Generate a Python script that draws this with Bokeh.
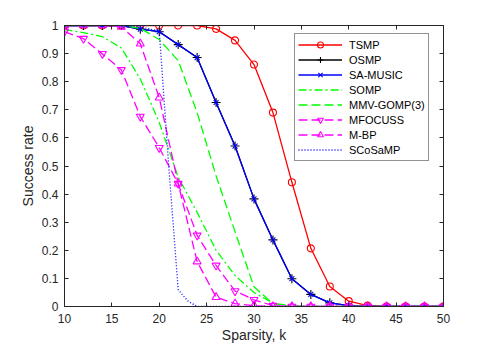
from bokeh.plotting import figure
from bokeh.models import (Range1d, FixedTicker, LinearAxis, Legend, LegendItem,
                          CustomJSTickFormatter)
from bokeh.embed import file_html
from bokeh.resources import INLINE

# ---------------- data ----------------
k = [10, 12, 14, 16, 18, 20, 22, 24, 26, 28, 30, 32, 34, 36, 38, 40, 42, 44, 46, 48, 50]

tsmp     = [1, 1, 1, 1, 1, 1, 1, 1, 0.988, 0.947, 0.861, 0.69, 0.442, 0.207, 0.071, 0.019, 0.003, 0, 0, 0, 0]
osmp     = [1, 1, 1, 1, 0.987, 0.978, 0.932, 0.886, 0.726, 0.571, 0.383, 0.237, 0.099, 0.043, 0.013, 0.003, 0, 0, 0, 0, 0]
samusic  = [1, 1, 1, 1, 0.987, 0.978, 0.932, 0.886, 0.726, 0.571, 0.383, 0.237, 0.099, 0.043, 0.013, 0.003, 0, 0, 0, 0, 0]
somp     = [0.985, 0.975, 0.96, 0.92, 0.81, 0.655, 0.46, 0.335, 0.2, 0.11, 0.05, 0.012, 0.002, 0, 0, 0, 0, 0, 0, 0, 0]
mmvgomp  = [1, 1, 1, 1, 0.99, 0.95, 0.875, 0.69, 0.465, 0.266, 0.07, 0.01, 0, 0, 0, 0, 0, 0, 0, 0, 0]
mfocuss  = [0.978, 0.953, 0.899, 0.842, 0.676, 0.565, 0.437, 0.253, 0.146, 0.055, 0.024, 0.003, 0, 0, 0, 0, 0, 0, 0, 0, 0]
mbp      = [1, 1, 1, 0.995, 0.935, 0.743, 0.437, 0.16, 0.033, 0.01, 0.003, 0, 0, 0, 0, 0, 0, 0, 0, 0, 0]

k_scosamp = [10, 12, 14, 16, 18, 20, 21, 22, 23, 24, 26, 28, 30, 32, 34, 36, 38, 40, 42, 44, 46, 48, 50]
scosamp   = [1, 1, 1, 1, 0.995, 0.98, 0.5, 0.06, 0.02, 0, 0, 0, 0, 0, 0, 0, 0, 0, 0, 0, 0, 0, 0]

x_ticks = [10, 15, 20, 25, 30, 35, 40, 45, 50]
y_ticks = [0, 0.1, 0.2, 0.3, 0.4, 0.5, 0.6, 0.7, 0.8, 0.9, 1]

# ---------------- figure ----------------
FONT = "Liberation Sans"
AX = "#262626"

p = figure(width=490, height=348, x_range=Range1d(10, 50), y_range=Range1d(0, 1),
           output_backend="svg", toolbar_location=None,
           min_border_left=64, min_border_right=47, min_border_top=25, min_border_bottom=42)
p.xgrid.visible = False
p.ygrid.visible = False
p.outline_line_color = AX
p.outline_line_width = 1
p.background_fill_color = "white"
p.border_fill_color = "white"

yfmt = CustomJSTickFormatter(code="return String(Math.round(tick*10)/10);")

def style_axis(ax, ticks):
    ax.ticker = FixedTicker(ticks=ticks)
    ax.minor_tick_line_color = None
    ax.major_tick_in = 4
    ax.major_tick_out = 0
    ax.axis_line_color = AX
    ax.major_tick_line_color = AX
    ax.major_label_text_color = AX
    ax.major_label_text_font = FONT
    ax.major_label_text_font_size = "12px"
    ax.axis_label_text_font = FONT
    ax.axis_label_text_font_size = "14px"
    ax.axis_label_text_font_style = "normal"
    ax.axis_label_text_color = AX

xa = p.below[0]
ya = p.left[0]
style_axis(xa, x_ticks)
style_axis(ya, y_ticks)
ya.formatter = yfmt
xa.axis_label = "Sparsity, k"
ya.axis_label = "Success rate"
xa.major_label_standoff = 7
xa.axis_label_standoff = 1
ya.major_label_standoff = 6
ya.axis_label_standoff = 3

top = LinearAxis()
right = LinearAxis()
for ax, t in ((top, x_ticks), (right, y_ticks)):
    style_axis(ax, t)
    ax.major_label_text_font_size = "0px"
    ax.major_label_standoff = 0
p.add_layout(top, "above")
p.add_layout(right, "right")

# ---------------- series ----------------
items = []
LW = 1.3

def series(x, y, label, color, dash="solid", marker=None, size=7):
    rs = [p.line(x, y, line_color=color, line_width=LW, line_dash=dash)]
    if marker is not None:
        rs.append(p.scatter(x, y, marker=marker, size=size, line_color=color,
                            fill_color=None, line_width=1.1))
    items.append(LegendItem(label=label, renderers=rs))

series(k, tsmp, "TSMP", "#FF0000", marker="circle", size=7)
series(k, osmp, "OSMP", "#000000", marker="cross", size=9)
series(k, samusic, "SA-MUSIC", "#0000FF", marker="x", size=7)
series(k, somp, "SOMP", "#00FF00", dash="8 3 2 3")
series(k, mmvgomp, "MMV-GOMP(3)", "#00FF00", dash="9 4")
series(k, mfocuss, "MFOCUSS", "#FF00FF", dash="9 4", marker="inverted_triangle", size=8)
series(k, mbp, "M-BP", "#FF00FF", dash="9 4", marker="triangle", size=8)
series(k_scosamp, scosamp, "SCoSaMP", "#0000FF", dash="1 2")

legend = Legend(items=items, location=(230, 145))
legend.label_text_font = FONT
legend.label_text_font_size = "11px"
legend.label_text_color = "#000000"
legend.glyph_width = 44
legend.glyph_height = 15
legend.label_height = 15
legend.spacing = 0
legend.padding = 3
legend.margin = 0
legend.label_standoff = 7
legend.border_line_color = AX
legend.border_line_width = 1
legend.background_fill_color = "white"
legend.background_fill_alpha = 1
p.add_layout(legend, "center")

open("out.html", "w").write(file_html(p, INLINE))
